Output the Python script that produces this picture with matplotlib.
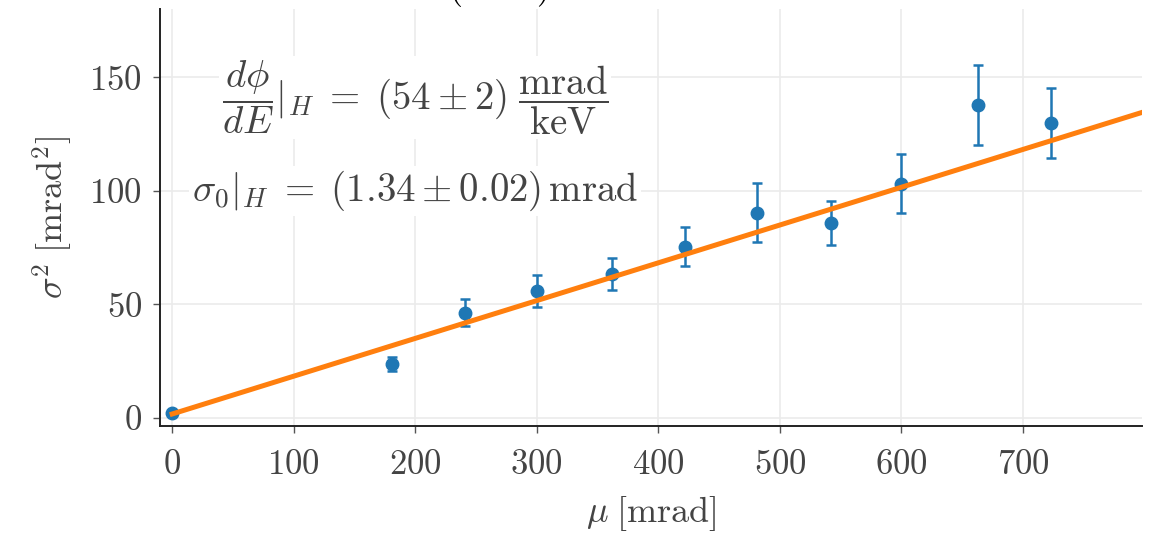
import numpy as np
import matplotlib
matplotlib.use("Agg")
import matplotlib.pyplot as plt

plt.rcParams["font.family"] = "serif"
plt.rcParams["font.serif"] = ["cmr10", "DejaVu Serif"]
plt.rcParams["mathtext.fontset"] = "cm"
plt.rcParams["axes.formatter.use_mathtext"] = True
plt.rcParams["axes.unicode_minus"] = False

# measured beam width vs. mean deflection
mu = [0, 181, 241, 300, 362, 422, 481, 542, 600, 663, 723]
sigma2 = [2.2, 23.8, 46.3, 56.0, 63.5, 75.4, 90.4, 86.0, 103.2, 137.6, 130.0]
sigma2_err = [0.8, 3.0, 6.0, 7.0, 7.0, 8.5, 13.0, 9.7, 13.0, 17.6, 15.4]

# linear fit: sigma^2 = sigma0^2 + k * mu
sigma0 = 1.34
k = 0.1663

txt = "#444444"
fig = plt.figure(figsize=(11.53, 5.36), dpi=100)
ax = fig.add_axes([0.1388, 0.2052, 0.8517, 0.7780])

mu_fit = np.linspace(0, 800, 200)
ax.plot(mu_fit, sigma0**2 + k*mu_fit, color="#ff7f0e", lw=3.6, zorder=3)
ax.errorbar(mu, sigma2, yerr=sigma2_err, fmt="o", color="#1f77b4", ms=9,
            elinewidth=1.8, capsize=3.6, capthick=1.8, zorder=2)

ax.set_xlim(-10, 798)
ax.set_ylim(-3.5, 180)
ax.set_xticks([0, 100, 200, 300, 400, 500, 600, 700])
ax.set_yticks([0, 50, 100, 150])
ax.grid(True, color="#ebebeb", lw=1.2, zorder=0)
ax.set_axisbelow(True)
for s in ["top", "right"]:
    ax.spines[s].set_visible(False)
for s in ["left", "bottom"]:
    ax.spines[s].set_color("#222222")
    ax.spines[s].set_linewidth(1.4)
ax.tick_params(axis="both", colors="#555555", labelcolor=txt, labelsize=25,
               length=5, width=1)
ax.tick_params(axis="x", pad=12)
ax.tick_params(axis="y", pad=8)

ax.set_xlabel(r"$\mu\;[\mathrm{mrad}]$", fontsize=26, color=txt, labelpad=9)
ax.set_ylabel(r"$\sigma^2\;[\mathrm{mrad}^2]$", fontsize=26, color=txt, labelpad=10)

box = dict(facecolor="white", edgecolor="none", pad=2)
ax.text(200, 141, r"$\dfrac{d\phi}{dE}|_H \;=\; (54 \pm 2)\;\dfrac{\mathrm{mrad}}{\mathrm{keV}}$",
        fontsize=28, color=txt, ha="center", va="center", bbox=box, zorder=4)
ax.text(200, 100, r"$\sigma_0|_H \;=\; (1.34 \pm 0.02)\,\mathrm{mrad}$",
        fontsize=28, color=txt, ha="center", va="center", bbox=box, zorder=4)

fig.text(500/1153, 1.004, "(H fit)", fontsize=26, color="black", ha="center",
         va="baseline")

fig.savefig("out.png", dpi=100)
